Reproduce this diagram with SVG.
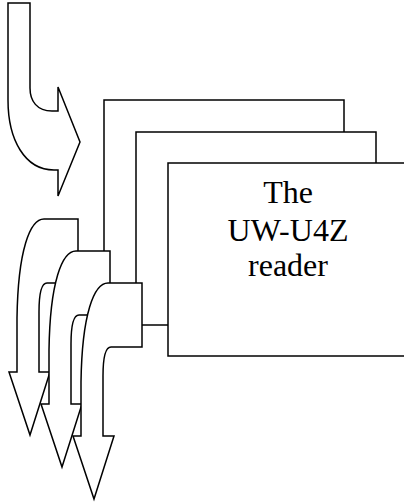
<svg xmlns="http://www.w3.org/2000/svg" width="404" height="503" viewBox="0 0 404 503">
<style>
.s{fill:#fff;stroke:#000;stroke-width:1.5;stroke-linejoin:miter}
.t{font-family:"Liberation Serif","Times New Roman",serif;font-size:32px;fill:#000;text-anchor:middle}
</style>
<defs>
<path id="ca" d="M 78,219 L 44,219 C 30,219 18,250 17,318 L 17,372 L 9,372 L 30,435 L 50,372 L 39,372 L 39,312 C 39,295 41,283 47,283 L 78,283 Z"/>
</defs>
<rect width="404" height="503" fill="#fff"/>
<g id="reader-back2"><rect class="s" x="104" y="100" width="240" height="193"/></g>
<g id="reader-back1"><rect class="s" x="136" y="132" width="240" height="193"/></g>
<g id="reader">
<rect class="s" x="168" y="163" width="240" height="193"/>
<text class="t" x="288" y="203">The</text>
<text class="t" x="288" y="241">UW-U4Z</text>
<text class="t" x="288" y="276">reader</text>
</g>
<g id="arrows">
<g id="arrow-in"><path class="s" d="M 8,3 L 30,3 L 30,88 C 30,101 37,111 52,111 L 58,111 L 58,87 L 80,142 L 58,196 L 58,170 L 54,170 C 25,170 8,140 8,100 Z"/></g>
<g id="arrow-out1"><use href="#ca" class="s"/></g>
<g id="arrow-out2"><use href="#ca" class="s" transform="translate(32,32)"/></g>
<g id="arrow-out3"><use href="#ca" class="s" transform="translate(64,64)"/></g>
</g>
</svg>
